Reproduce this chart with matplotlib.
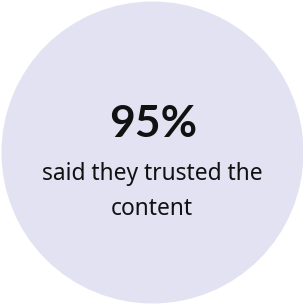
import matplotlib
matplotlib.use("Agg")
import matplotlib.pyplot as plt
from matplotlib.patches import Circle

value_label = "95%"
caption_lines = ["said they trusted the", "content"]

W, H = 303, 307
fig = plt.figure(figsize=(W / 100, H / 100), dpi=100)
ax = fig.add_axes([0, 0, 1, 1])
ax.set_xlim(0, W)
ax.set_ylim(H, 0)
ax.axis("off")

ax.add_patch(Circle((152.5, 152.5), 151, facecolor="#E2E2F3", edgecolor="none"))

ax.text(153, 137, value_label, ha="center", va="baseline", fontsize=32,
        fontweight="bold", family="Lato", color="#111111")
ax.text(152, 180, caption_lines[0], ha="center", va="baseline", fontsize=16.4,
        family="Noto Sans", color="#111111")
ax.text(152, 215, caption_lines[1], ha="center", va="baseline", fontsize=16.4,
        family="Noto Sans", color="#111111")

fig.savefig("out.png", dpi=100)
